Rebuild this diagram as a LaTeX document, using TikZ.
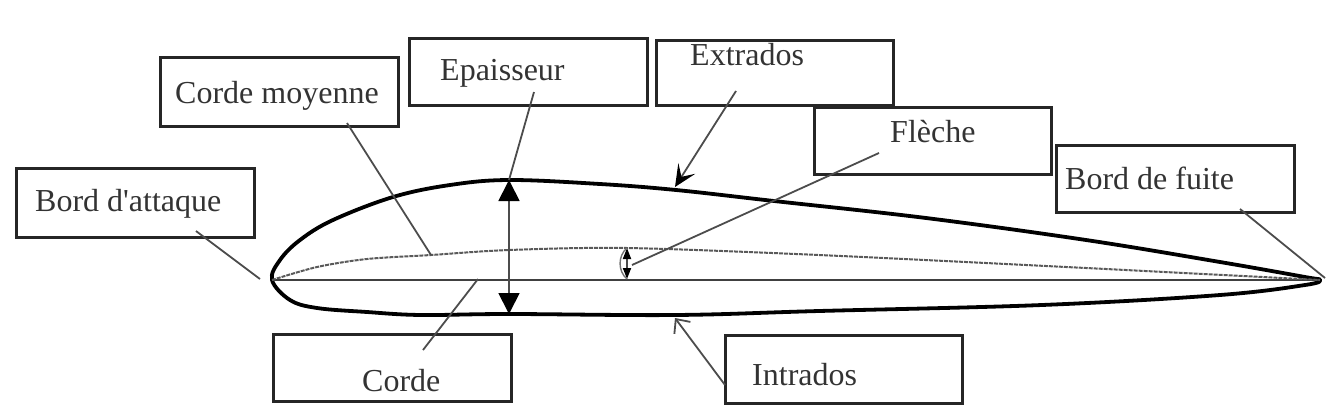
\documentclass[tikz,border=0pt]{standalone}
\usepackage{fontspec}
\setmainfont{Liberation Serif}
\usetikzlibrary{arrows.meta}
\tikzset{
  boite/.style = {draw=black!85, line width=3pt, anchor=north west, inner sep=0pt, outer sep=0pt},
  texte/.style = {anchor=base west, inner sep=0pt, text=black!80, font=\fontsize{32}{32}\selectfont},
  trait/.style = {draw=black!70, line width=1.8pt},
  pointe/.style = {trait, {Triangle[length=21pt,width=21pt,color=black]}-{Triangle[length=21pt,width=21pt,color=black]}},
  ouverte/.style = {trait, -{Stealth[length=22pt,width=20pt,inset=10pt,color=black]}},
  barbe/.style = {trait, -{Straight Barb[length=11pt,width=20pt]}}
}
\begin{document}
\begin{tikzpicture}[x=1pt, y=-1pt]
\useasboundingbox (0,0) rectangle (1334,405);

\node[boite, minimum width=238pt, minimum height=69pt] (bA) at (16,168) {};
\node[boite, minimum width=238pt, minimum height=69pt] (bM) at (160,57) {};
\node[boite, minimum width=238pt, minimum height=67pt] (bE) at (409,38) {};
\node[boite, minimum width=237pt, minimum height=65pt] (bX) at (656,40) {};
\node[boite, minimum width=237pt, minimum height=67pt] (bF) at (814,107) {};
\node[boite, minimum width=238pt, minimum height=67pt] (bB) at (1056,145) {};
\node[boite, minimum width=238pt, minimum height=67pt] (bC) at (273,334) {};
\node[boite, minimum width=237pt, minimum height=68pt] (bI) at (725,335) {};

\node[texte] (tA) at (35,211) {Bord d\textquotesingle attaque};
\node[texte] (tM) at (175,103) {Corde moyenne};
\node[texte] (tE) at (440,80) {Epaisseur};
\node[texte] (tX) at (690,65) {Extrados};
\node[texte] (tF) at (890,142) {Flèche};
\node[texte] (tB) at (1065,189) {Bord de fuite};
\node[texte] (tC) at (362,391) {Corde};
\node[texte] (tI) at (752,385) {Intrados};

\coordinate (nez) at (272,280);
\coordinate (fuite) at (1320,280);
\coordinate (haut) at (509,180);
\coordinate (bas) at (509,314);
\coordinate (moy) at (431,255);
\coordinate (cor) at (478,279);
\coordinate (fH) at (627,248);
\coordinate (fB) at (627,279);

% profil
\draw[line width=3.8pt, line join=round] plot[smooth cycle, tension=0.6] coordinates {(nez) (280,260) (300,240) (333,220) (393,197) (450,185) (haut) (600,184) (676,190) (774,201) (926,218) (1086,240) (1220,262) (1305,277) (fuite) (1305,285) (1220,295) (1042,305) (819,311) (676,315) (bas) (421,315) (367,312) (317,308) (290,300)};
\draw[line width=1.6pt, black!75] (nez) -- (fuite);
\draw[line width=2pt, black!65, dash pattern=on 4pt off 1pt] plot[smooth, tension=0.5] coordinates {(nez) (317,267) (367,259) (moy) (509,250) (fH) (819,255) (1086,268) (fuite)};

\coordinate (a1) at (196,231);
\coordinate (a2) at (260,279);
\draw[trait] (a1) -- (a2);
\coordinate (m1) at (347,123);
\draw[trait] (m1) -- (moy);
\coordinate (c1) at (423,350);
\draw[trait] (cor) -- (c1);
\coordinate (e1) at (534,92);
\draw[trait] (e1) -- (haut);
\draw[pointe] (haut) -- (bas);
\coordinate (x1) at (736,91);
\coordinate (x2) at (675,187);
\draw[ouverte] (x1) -- (x2);
\coordinate (i1) at (725,385);
\coordinate (i2) at (675,318);
\draw[barbe] (i1) -- (i2);
\coordinate (f1) at (879,153);
\coordinate (f2) at (632,265);
\draw[trait] (f1) -- (f2);
\coordinate (b1) at (1240,209);
\coordinate (b2) at (1325,278);
\draw[trait] (b1) -- (b2);
\draw[trait, {Triangle[length=11pt,width=8pt,color=black]}-{Triangle[length=11pt,width=8pt,color=black]}] (fH) -- (fB);
\draw[line width=1.4pt, black!55] (fH) to[bend right=50] (fB);
\end{tikzpicture}
\end{document}
